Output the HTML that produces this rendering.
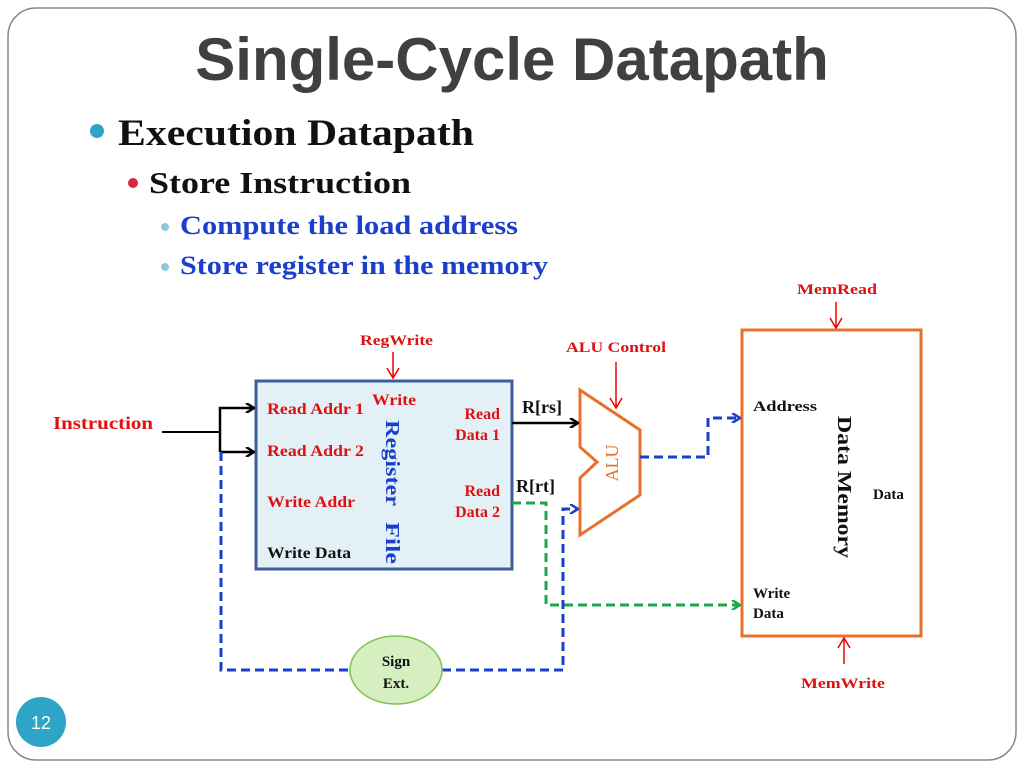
<!DOCTYPE html>
<html><head><meta charset="utf-8"><style>
html,body{margin:0;padding:0;background:#fff;}
svg{display:block}
</style></head><body>
<svg width="1024" height="768" xmlns="http://www.w3.org/2000/svg">
<defs>
<marker id="ab" markerWidth="10" markerHeight="10" refX="9" refY="5" orient="auto" markerUnits="userSpaceOnUse"><path d="M1,0 L9,5 L1,10" fill="none" stroke="#000" stroke-width="2.5"/></marker>
<marker id="abl" markerWidth="10" markerHeight="10" refX="9" refY="5" orient="auto" markerUnits="userSpaceOnUse"><path d="M1,0 L9,5 L1,10" fill="none" stroke="#1a3fcc" stroke-width="2.5"/></marker>
<marker id="ag" markerWidth="10" markerHeight="10" refX="9" refY="5" orient="auto" markerUnits="userSpaceOnUse"><path d="M1,0 L9,5 L1,10" fill="none" stroke="#1aa84a" stroke-width="2.5"/></marker>
</defs>
<rect x="8" y="8" width="1008" height="752" rx="28" fill="#fff" stroke="#888" stroke-width="1.5"/>
<text x="512" y="80" text-anchor="middle" font-family="Liberation Sans, sans-serif" font-weight="bold" font-size="60" fill="#404040">Single-Cycle Datapath</text>
<circle cx="97" cy="131" r="7" fill="#2ea4c6"/>
<text x="118" y="145" font-family="Liberation Serif, serif" font-weight="bold" font-size="37" fill="#111" textLength="356" lengthAdjust="spacingAndGlyphs">Execution Datapath</text>
<circle cx="133" cy="183" r="5" fill="#d42a3a"/>
<text x="149" y="193" font-family="Liberation Serif, serif" font-weight="bold" font-size="31" fill="#111" textLength="262" lengthAdjust="spacingAndGlyphs">Store Instruction</text>
<circle cx="165" cy="227" r="4" fill="#8ec8dc"/>
<text x="180" y="234" font-family="Liberation Serif, serif" font-weight="bold" font-size="26" fill="#1a3fcc" textLength="338" lengthAdjust="spacingAndGlyphs">Compute the load address</text>
<circle cx="165" cy="267" r="4" fill="#8ec8dc"/>
<text x="180" y="274" font-family="Liberation Serif, serif" font-weight="bold" font-size="26" fill="#1a3fcc" textLength="368" lengthAdjust="spacingAndGlyphs">Store register in the memory</text>

<g font-family="Liberation Serif, serif" font-weight="bold">
<rect x="256" y="381" width="256" height="188" fill="#e3f1f7" stroke="#3b5f9a" stroke-width="3"/>
<text x="267" y="414" font-size="16" fill="#e01010" textLength="97" lengthAdjust="spacingAndGlyphs">Read Addr 1</text>
<text x="267" y="456" font-size="16" fill="#e01010" textLength="97" lengthAdjust="spacingAndGlyphs">Read Addr 2</text>
<text x="267" y="507" font-size="16" fill="#e01010" textLength="88" lengthAdjust="spacingAndGlyphs">Write Addr</text>
<text x="267" y="558" font-size="16" fill="#111" textLength="84" lengthAdjust="spacingAndGlyphs">Write Data</text>
<text x="372" y="405" font-size="16" fill="#e01010" textLength="44" lengthAdjust="spacingAndGlyphs">Write</text>
<text x="500" y="419" font-size="16" fill="#e01010" text-anchor="end">Read</text>
<text x="500" y="440" font-size="16" fill="#e01010" text-anchor="end">Data 1</text>
<text x="500" y="496" font-size="16" fill="#e01010" text-anchor="end">Read</text>
<text x="500" y="517" font-size="16" fill="#e01010" text-anchor="end">Data 2</text>
<text transform="translate(386,420) rotate(90)" font-size="20" fill="#1a3fcc" textLength="86" lengthAdjust="spacingAndGlyphs">Register</text>
<text transform="translate(386,522) rotate(90)" font-size="20" fill="#1a3fcc" textLength="42" lengthAdjust="spacingAndGlyphs">File</text>
<text x="360" y="345" font-size="15" fill="#e01010" textLength="73" lengthAdjust="spacingAndGlyphs">RegWrite</text>
<line x1="393" y1="352" x2="393" y2="378" stroke="#e00" stroke-width="1.5"/>
<path d="M387,368 L393,378 L399,368" fill="none" stroke="#e00" stroke-width="1.5"/>

<text x="53" y="429" font-size="18" fill="#e01010" textLength="100" lengthAdjust="spacingAndGlyphs">Instruction</text>
<polyline points="162,432 220,432" fill="none" stroke="#000" stroke-width="2"/>
<polyline points="220,452 220,408 254,408" fill="none" stroke="#000" stroke-width="2.5" marker-end="url(#ab)"/>
<line x1="220" y1="452" x2="254" y2="452" stroke="#000" stroke-width="2.5" marker-end="url(#ab)"/>

<polygon points="580,390 640,430 640,495 580,535 580,478 597,462 580,447" fill="#fff" stroke="#e8702a" stroke-width="3"/>
<text transform="translate(618,463) rotate(-90)" font-size="18" fill="#e8702a" text-anchor="middle" font-weight="normal">ALU</text>
<text x="566" y="352" font-size="15" fill="#e01010" textLength="100" lengthAdjust="spacingAndGlyphs">ALU Control</text>
<line x1="616" y1="362" x2="616" y2="408" stroke="#e00" stroke-width="1.5"/>
<path d="M610,398 L616,408 L622,398" fill="none" stroke="#e00" stroke-width="1.5"/>
<line x1="512" y1="423" x2="578" y2="423" stroke="#000" stroke-width="2.5" marker-end="url(#ab)"/>
<text x="522" y="413" font-size="18" fill="#111">R[rs]</text>
<text x="516" y="492" font-size="18" fill="#111">R[rt]</text>

<rect x="742" y="330" width="179" height="306" fill="#fff" stroke="#e8702a" stroke-width="3"/>
<text x="753" y="411" font-size="15" fill="#111" textLength="64" lengthAdjust="spacingAndGlyphs">Address</text>
<text x="873" y="499" font-size="15" fill="#111">Data</text>
<text x="753" y="598" font-size="15" fill="#111">Write</text>
<text x="753" y="618" font-size="15" fill="#111">Data</text>
<text transform="translate(838,416) rotate(90)" font-size="20" fill="#111" textLength="142" lengthAdjust="spacingAndGlyphs">Data Memory</text>
<text x="797" y="294" font-size="15" fill="#e01010" textLength="80" lengthAdjust="spacingAndGlyphs">MemRead</text>
<line x1="836" y1="302" x2="836" y2="328" stroke="#e00" stroke-width="1.5"/>
<path d="M830,318 L836,328 L842,318" fill="none" stroke="#e00" stroke-width="1.5"/>
<text x="801" y="688" font-size="15" fill="#e01010" textLength="84" lengthAdjust="spacingAndGlyphs">MemWrite</text>
<line x1="844" y1="664" x2="844" y2="638" stroke="#e00" stroke-width="1.5"/>
<path d="M838,648 L844,638 L850,648" fill="none" stroke="#e00" stroke-width="1.5"/>

<polyline points="640,457 708,457 708,418 740,418" fill="none" stroke="#1a3fcc" stroke-width="3" stroke-dasharray="9,5" marker-end="url(#abl)"/>
<polyline points="512,503 546,503 546,605 740,605" fill="none" stroke="#1aa84a" stroke-width="3" stroke-dasharray="9,5" marker-end="url(#ag)"/>
<polyline points="221,452 221,670 350,670" fill="none" stroke="#1a3fcc" stroke-width="3" stroke-dasharray="9,5"/>
<polyline points="442,670 563,670 563,509 578,509" fill="none" stroke="#1a3fcc" stroke-width="3" stroke-dasharray="9,5" marker-end="url(#abl)"/>

<ellipse cx="396" cy="670" rx="46" ry="34" fill="#d6efc0" stroke="#7ec24e" stroke-width="1.5"/>
<text x="396" y="666" font-size="15" fill="#111" text-anchor="middle">Sign</text>
<text x="396" y="688" font-size="15" fill="#111" text-anchor="middle">Ext.</text>
</g>

<circle cx="41" cy="722" r="25" fill="#2ea4c6"/>
<text x="41" y="729" text-anchor="middle" font-family="Liberation Sans, sans-serif" font-size="18" fill="#fff">12</text>
</svg>
</body></html>
